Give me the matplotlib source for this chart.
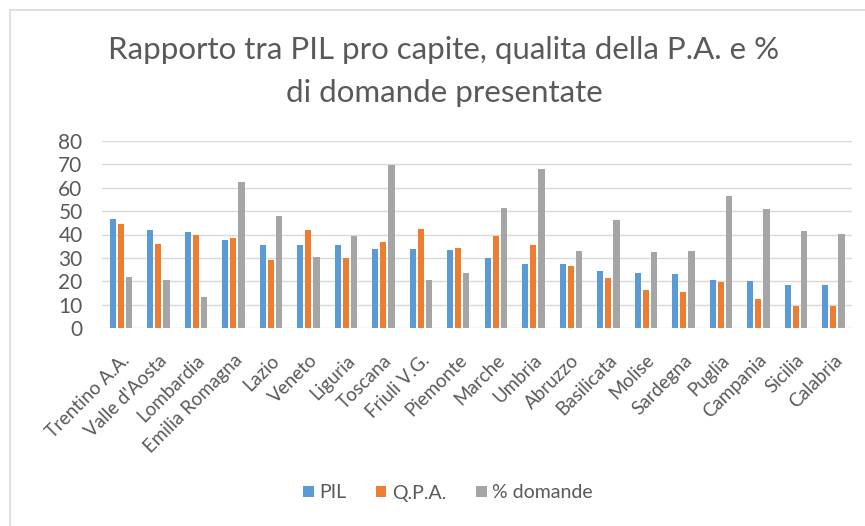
import matplotlib
matplotlib.use("Agg")
import matplotlib.pyplot as plt
from matplotlib.patches import Rectangle
import numpy as np

regioni = ["Trentino A.A.", "Valle d'Aosta", "Lombardia", "Emilia Romagna",
           "Lazio", "Veneto", "Liguria", "Toscana", "Friuli V.G.", "Piemonte",
           "Marche", "Umbria", "Abruzzo", "Basilicata", "Molise", "Sardegna",
           "Puglia", "Campania", "Sicilia", "Calabria"]
pil = [46.5, 42.0, 41.1, 37.8, 35.4, 35.4, 35.3, 34.0, 34.0, 33.4,
       30.0, 27.5, 27.5, 24.2, 23.6, 22.9, 20.6, 20.1, 18.6, 18.6]
qpa = [44.5, 36.0, 39.7, 38.7, 29.0, 42.1, 30.0, 36.6, 42.4, 34.4,
       39.5, 35.4, 26.5, 21.3, 16.2, 15.4, 19.5, 12.4, 9.4, 9.2]
domande = [21.8, 20.6, 13.2, 62.4, 47.9, 30.4, 39.4, 69.7, 20.6, 23.6,
           51.5, 68.1, 33.0, 46.4, 32.4, 33.0, 56.5, 50.8, 41.3, 40.1]
serie = ["PIL", "Q.P.A.", "% domande"]
colori = ["#5B9BD5", "#ED7D31", "#A5A5A5"]

plt.rcParams["font.family"] = ["Lato", "DejaVu Sans"]
TXT = "#595959"

fig = plt.figure(figsize=(8.65, 5.26), dpi=100)
# chart frame
fig.patches.append(Rectangle((10 / 865, -0.1), 1.1, 1 - 10 / 526 + 0.1,
                             transform=fig.transFigure, fill=False,
                             edgecolor="#D9D9D9", lw=1.2))

ax = fig.add_axes([102 / 865, 1 - 328 / 526, 750 / 865, 187 / 526])
x = np.arange(len(regioni))
w = 0.17
for i, (vals, col, name) in enumerate(zip([pil, qpa, domande], colori, serie)):
    ax.bar(x + (i - 1) * 0.215, vals, width=w, color=col, label=name, zorder=3)

ax.set_xlim(-0.5, len(regioni) - 0.5)
ax.set_ylim(0, 80)
ax.set_yticks(range(0, 81, 10))
ax.grid(axis="y", color="#D9D9D9", lw=1, zorder=0)
for s in ax.spines.values():
    s.set_visible(False)
ax.tick_params(axis="y", length=0, labelsize=15, labelcolor=TXT, pad=14)
ax.set_xticks(x)
ax.set_xticklabels(regioni, rotation=45, ha="right", rotation_mode="anchor",
                   fontsize=13.5, color=TXT)
ax.tick_params(axis="x", length=0, pad=17)

tx = 444 / 865
fig.text(tx, 1 - 50 / 526, "Rapporto tra PIL pro capite, qualita della P.A. e %",
         ha="center", va="center", fontsize=22.5, color=TXT)
fig.text(tx, 1 - 93 / 526, "di domande presentate",
         ha="center", va="center", fontsize=22.5, color=TXT)

fig.legend(loc="center", bbox_to_anchor=(448 / 865, 1 - 493 / 526), ncol=3,
           frameon=False, fontsize=14, labelcolor=TXT, handlelength=0.55,
           handleheight=0.55, handletextpad=0.3, columnspacing=1.5)

fig.savefig("out.png", dpi=100)
